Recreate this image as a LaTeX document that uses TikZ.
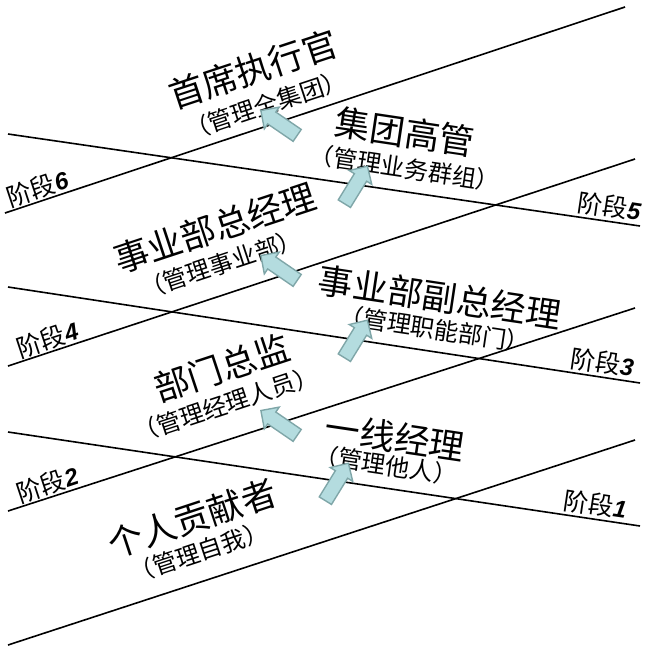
\documentclass[tikz,border=0pt]{standalone}
\usepackage{fontspec}
\setmainfont{Liberation Sans}
\newfontfamily\cjk{Noto Sans CJK SC}
\newfontfamily\cjkslant{Noto Sans CJK SC}[AutoFakeSlant=0.15]
\usetikzlibrary{shapes.arrows}
\definecolor{arrowfill}{HTML}{B4DCDF}
\definecolor{arrowdraw}{HTML}{7FA6A8}
\newcommand\stagenum[1]{{\rmfamily\bfseries\itshape\fontsize{24}{28}\selectfont #1}}

\begin{document}
\begin{tikzpicture}[x=1pt, y=-1pt,
    stageline/.style={line width=1.6pt},
    title/.style={inner sep=0pt, font=\cjk\fontsize{35}{40}\selectfont},
    subtitle/.style={inner sep=0pt, font=\cjk\fontsize{24}{28}\selectfont},
    stage/.style={inner sep=1pt, font=\cjkslant\fontsize{25}{28}\selectfont},
    uparrow/.style={single arrow, draw=arrowdraw, fill=arrowfill, line width=1.4pt,
        minimum height=44pt, inner xsep=0pt, inner ysep=6.5pt,
        single arrow head extend=6pt}]
    \useasboundingbox (0,0) rectangle (661,648);

    \draw[stageline] (5,213) -- (625,7);
    \draw[stageline] (8,134) -- (640,226);
    \draw[stageline] (8,366) -- (635,159);
    \draw[stageline] (8,287) -- (640,383);
    \draw[stageline] (8,511) -- (635,308);
    \draw[stageline] (8,432) -- (640,526);
    \draw[stageline] (8,645) -- (635,440);

    \node[stage, anchor=south west, rotate=18.3] (s6) at (10,211) {阶段\stagenum{6}};
    \node[stage, anchor=south west, rotate=18.3] (s4) at (20,362) {阶段\stagenum{4}};
    \node[stage, anchor=south west, rotate=18.3] (s2) at (20,507) {阶段\stagenum{2}};
    \node[stage, anchor=south east, rotate=-8.5] (s5) at (640,224) {阶段\stagenum{5}};
    \node[stage, anchor=south east, rotate=-8.5] (s3) at (633,380) {阶段\stagenum{3}};
    \node[stage, anchor=south east, rotate=-8.5] (s1) at (626,522) {阶段\stagenum{1}};

    \node[title, rotate=18.3] (ceo) at (253,69) {首席执行官};
    \node[subtitle, rotate=18.3] (ceosub) at (266,105) {（管理全集团）};
    \node[title, rotate=-8.5] (grp) at (405,132) {集团高管};
    \node[subtitle, rotate=-8.5] (grpsub) at (405,168) {（管理业务群组）};
    \node[title, rotate=18.3] (bu) at (215,228) {事业部总经理};
    \node[subtitle, rotate=18.3] (busub) at (221,264) {（管理事业部）};
    \node[title, rotate=-8.5] (vbu) at (440,297) {事业部副总经理};
    \node[subtitle, rotate=-8.5] (vbusub) at (435,329) {（管理职能部门）};
    \node[title, rotate=18.3] (dir) at (222,368) {部门总监};
    \node[subtitle, rotate=18.3] (dirsub) at (226,404) {（管理经理人员）};
    \node[title, rotate=-8.5] (mgr) at (395,437) {一线经理};
    \node[subtitle, rotate=-8.5] (mgrsub) at (386,465) {（管理他人）};
    \node[title, rotate=18.3] (ic) at (192,518) {个人贡献者};
    \node[subtitle, rotate=18.3] (icsub) at (199,552) {（管理自我）};

    \node[uparrow, rotate=58.4] (a1) at (335,485) {};
    \node[uparrow, rotate=145.6] (a2) at (282,425) {};
    \node[uparrow, rotate=58.4] (a3) at (354,342) {};
    \node[uparrow, rotate=145.6] (a4) at (282,270) {};
    \node[uparrow, rotate=58.4] (a5) at (354,188) {};
    \node[uparrow, rotate=145.6] (a6) at (282,125) {};
\end{tikzpicture}
\end{document}
